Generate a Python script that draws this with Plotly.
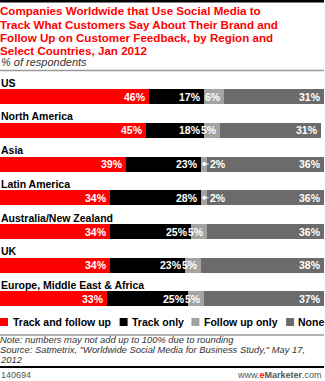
import plotly.graph_objects as go

regions = ["US", "North America", "Asia", "Latin America",
           "Australia/New Zealand", "UK", "Europe, Middle East & Africa"]
series_names = ["Track and follow up", "Track only", "Follow up only", "None"]
track_follow = [46, 45, 39, 34, 34, 34, 33]
track_only = [17, 18, 23, 28, 25, 23, 25]
follow_only = [6, 5, 2, 2, 5, 5, 5]
none_vals = [31, 31, 36, 36, 36, 38, 37]
colors = ["#ff0000", "#000000", "#a3a3a3", "#6b6b6b"]

title_lines = ["Companies Worldwide that Use Social Media to",
               "Track What Customers Say About Their Brand and",
               "Follow Up on Customer Feedback, by Region and",
               "Select Countries, Jan 2012"]
subtitle = "% of respondents"
note_lines = ["Note: numbers may not add up to 100% due to rounding",
              "Source: Satmetrix, \"Worldwide Social Media for Business Study,\" May 17,",
              "2012"]
chart_id = "140694"

W, H = 325, 381
PT, PB = 75, 316  # plot area top/bottom in pixels
PH = PB - PT
FONT = "Liberation Sans"

def py(p):
    return (PB - p) / PH

series = [track_follow, track_only, follow_only, none_vals]
ypos = list(range(len(regions)))

fig = go.Figure()
for name, vals, col in zip(series_names, series, colors):
    fig.add_trace(go.Bar(
        y=ypos, x=vals, name=name, orientation="h",
        marker=dict(color=col, line=dict(width=0)),
        width=0.45, showlegend=False, hoverinfo="skip"))

ann = []
shapes = []
# value labels
for i in range(len(regions)):
    cum = 0
    for vals in series:
        v = vals[i]
        cum += v
        if v >= 5:
            ann.append(dict(x=cum, y=i, xref="x", yref="y", text=f"{v}%",
                            showarrow=False, xanchor="right", xshift=-1,
                            font=dict(family=FONT, size=10.5, color="white", weight="bold")))
        else:
            ann.append(dict(x=cum - v / 2, y=i, xref="x", yref="y", text=f"{v}%",
                            showarrow=True, ax=14, ay=0, arrowhead=6, arrowsize=1,
                            arrowwidth=1, arrowcolor="white", standoff=0,
                            font=dict(family=FONT, size=10.5, color="white", weight="bold")))
    # row labels
    ann.append(dict(x=0, y=i, xref="paper", yref="y", text=regions[i],
                    showarrow=False, xanchor="left", yanchor="middle", yshift=14,
                    xshift=-1,
                    font=dict(family=FONT, size=10.5, color="black", weight="bold")))

# title
for k, line in enumerate(title_lines):
    ann.append(dict(x=0, y=py(10.5 + k * 13.5), xref="paper", yref="paper", text=line,
                    showarrow=False, xanchor="left", yanchor="middle", xshift=-1,
                    borderpad=0,
                    font=dict(family=FONT, size=11.6, color="#ff0000", weight="bold")))
ann.append(dict(x=0, y=py(62.5), xref="paper", yref="paper", text=subtitle,
                showarrow=False, xanchor="left", yanchor="middle", xshift=-1,
                font=dict(family=FONT, size=11, color="#333333", style="italic")))

# legend
leg = [(0, 8, 12), (120, 128, 131), (192, 200, 204), (287, 295, 298)]
for (x0, x1, tx), name, col in zip(leg, series_names, colors):
    shapes.append(dict(type="rect", xref="paper", yref="paper",
                       x0=x0 / W, x1=x1 / W, y0=py(326), y1=py(318),
                       fillcolor=col, line=dict(width=0)))
    ann.append(dict(x=tx / W, y=py(322), xref="paper", yref="paper", text=name,
                    showarrow=False, xanchor="left", yanchor="middle", xshift=-1,
                    font=dict(family=FONT, size=10.5, color="black", weight="bold")))

# notes
for k, line in enumerate(note_lines):
    ann.append(dict(x=0, y=py(339.5 + k * 10), xref="paper", yref="paper", text=line,
                    showarrow=False, xanchor="left", yanchor="middle", xshift=-1,
                    borderpad=0,
                    font=dict(family=FONT, size=9.4, color="#333333", style="italic")))
ann.append(dict(x=0, y=py(375), xref="paper", yref="paper", text=chart_id,
                showarrow=False, xanchor="left", yanchor="middle", xshift=-1,
                font=dict(family=FONT, size=9, color="#555555")))
ann.append(dict(x=1, y=py(375), xref="paper", yref="paper",
                text="www.<b><span style='color:#ff0000'>e</span>Marketer</b>.com",
                showarrow=False, xanchor="right", yanchor="middle",
                font=dict(family=FONT, size=9, color="#555555")))

# rules
shapes.append(dict(type="rect", xref="paper", yref="paper", x0=0, x1=1,
                   y0=py(2.5), y1=py(0), fillcolor="black", line=dict(width=0)))
shapes.append(dict(type="line", xref="paper", yref="paper", x0=0, x1=1,
                   y0=py(70.5), y1=py(70.5), line=dict(color="#999999", width=1.5)))
shapes.append(dict(type="line", xref="paper", yref="paper", x0=0, x1=1,
                   y0=py(335), y1=py(335), line=dict(color="#999999", width=1.5)))
shapes.append(dict(type="line", xref="paper", yref="paper", x0=0, x1=1,
                   y0=py(367), y1=py(367), line=dict(color="black", width=2)))

fig.update_layout(
    barmode="stack", width=W, height=H,
    margin=dict(l=0, r=1, t=PT, b=H - PB),
    paper_bgcolor="white", plot_bgcolor="white",
    xaxis=dict(range=[0, 100], visible=False, fixedrange=True),
    yaxis=dict(range=[(PB - 96.7) / 33.7, (PT - 96.7) / 33.7], visible=False, fixedrange=True),
    annotations=ann, shapes=shapes, showlegend=False,
    bargap=0,
)
fig.write_html("out.html", config={"displayModeBar": False})
